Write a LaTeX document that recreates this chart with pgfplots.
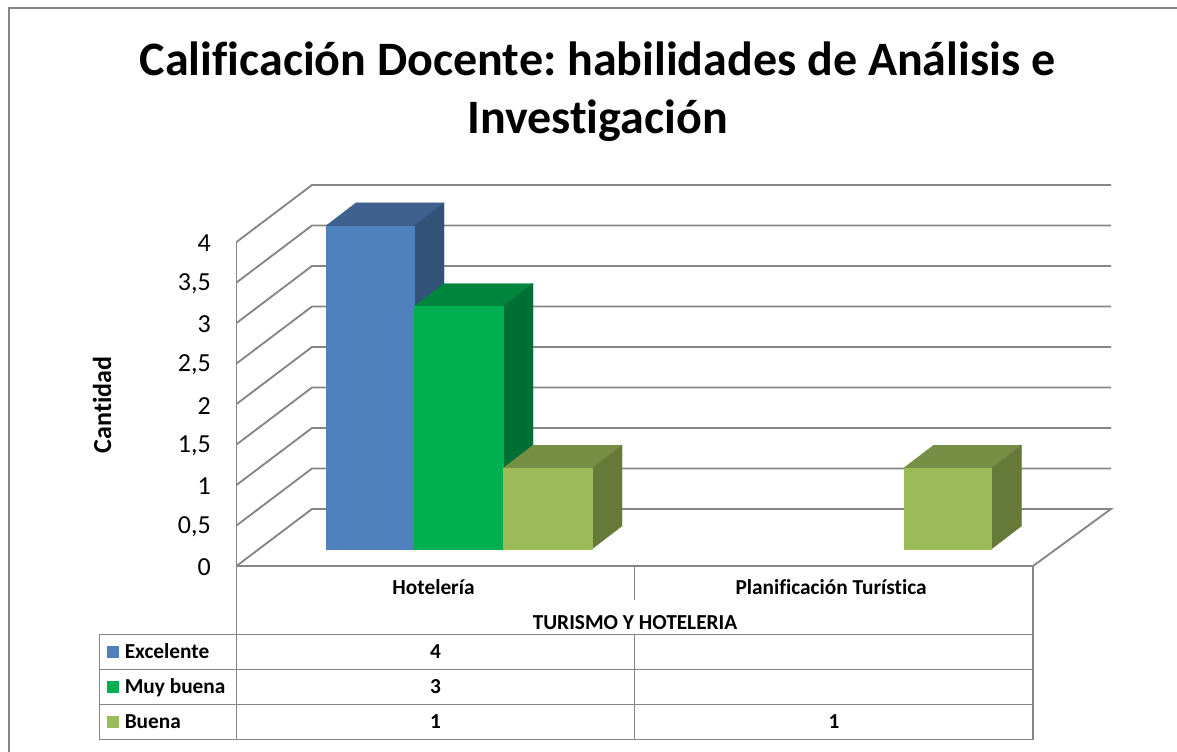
\documentclass[border=0pt]{standalone}
\usepackage{pgfplots}
\pgfplotsset{compat=1.18}
\usepackage{fontspec}
\setmainfont{Carlito}[Ligatures=NoCommon]
\frenchspacing
\definecolor{ln}{HTML}{868686}
\definecolor{bluef}{HTML}{4F81BD}\definecolor{bluet}{HTML}{3F618F}\definecolor{blues}{HTML}{335278}
\definecolor{greenf}{HTML}{00B050}\definecolor{greent}{HTML}{00853D}\definecolor{greens}{HTML}{006F33}
\definecolor{olivef}{HTML}{9BBB59}\definecolor{olivet}{HTML}{778F44}\definecolor{olives}{HTML}{657A39}
\newcommand\fs[1]{\fontsize{#1}{#1}\selectfont}
\tikzset{gl/.style={draw=ln,line width=1.4pt,solid,mark=none}}
\begin{document}
\begin{tikzpicture}[x=0.75pt,y=-0.75pt]
\path[use as bounding box] (0,0) rectangle (1177,752);
\coordinate (wallorigin) at (237,566);
\coordinate (barorigin) at (237,549);
% outer frame
\draw[ln,line width=1.4pt] (9,752) -- (9,8) -- (1177,8);
% title
\node[anchor=base,font=\bfseries\fs{36}] at (597.5,76) {Calificación Docente: habilidades de Análisis e};
\node[anchor=base,font=\bfseries\fs{36}] at (597.5,134) {Investigación};
% axis title
\node[anchor=base,rotate=90,font=\bfseries\fs{19.5}] at (111,405) {Cantidad};
% walls and floor
\begin{axis}[
  at={(wallorigin)},anchor=south west,
  scale only axis,width=597pt,height=243pt,
  xmin=237,xmax=1033,ymin=0,ymax=4,clip=false,
  axis line style={draw=none},major tick length=0pt,
  ytick={0,0.5,1,1.5,2,2.5,3,3.5,4},
  xtick={433.5,831},xticklabels={Hotelería,Planificación Turística},
  /pgf/number format/assume math mode=true,
  /pgf/number format/use comma,
  yticklabel style={font=\fs{19.5},inner sep=0pt,anchor=east,xshift=-19.5pt,yshift=-1.2pt},
  xticklabel style={font=\bfseries\fs{16},inner sep=0pt,anchor=base,yshift=-21pt},
]
\addplot[gl] coordinates {(236.5,0)(312,0.7037)(1111,0.7037)(1033,0)};
\addplot[gl] coordinates {(236.5,0.5)(312,1.2037)(1111,1.2037)};
\addplot[gl] coordinates {(236.5,1)(312,1.7037)(1111,1.7037)};
\addplot[gl] coordinates {(236.5,1.5)(312,2.2037)(1111,2.2037)};
\addplot[gl] coordinates {(236.5,2)(312,2.7037)(1111,2.7037)};
\addplot[gl] coordinates {(236.5,2.5)(312,3.2037)(1111,3.2037)};
\addplot[gl] coordinates {(236.5,3)(312,3.7037)(1111,3.7037)};
\addplot[gl] coordinates {(236.5,3.5)(312,4.2037)(1111,4.2037)};
\addplot[gl] coordinates {(236.5,4)(312,4.7037)(1111,4.7037)};
\addplot[gl] coordinates {(236.5,4)(236.5,0)(1033,0)};
\end{axis}
% bars: y is the value, 0 at the foot of the bars
\begin{axis}[
  at={(barorigin)},anchor=south west,
  scale only axis,width=597pt,height=242.4pt,
  xmin=237,xmax=1033,ymin=0,ymax=4,clip=false,
  hide axis,
  every axis plot/.append style={no markers,mark=none,line width=0.2pt},
]
% Excelente 4, Hotelería
\addplot[fill=bluet,draw=bluet] coordinates {(326,4)(356,4.2847)(444,4.2847)(414,4)};
\addplot[fill=blues,draw=blues] coordinates {(414,0)(444,0.2847)(444,4.2847)(414,4)};
\addplot[fill=bluef,draw=bluef] coordinates {(326,0)(414,0)(414,4)(326,4)};
% Muy buena 3, Hotelería
\addplot[fill=greent,draw=greent] coordinates {(414,3)(444,3.2847)(533,3.2847)(503,3)};
\addplot[fill=greens,draw=greens] coordinates {(503,0)(533,0.2847)(533,3.2847)(503,3)};
\addplot[fill=greenf,draw=greenf] coordinates {(414,0)(503,0)(503,3)(414,3)};
% Buena 1, Hotelería
\addplot[fill=olivet,draw=olivet] coordinates {(503,1)(533,1.2847)(622,1.2847)(592,1)};
\addplot[fill=olives,draw=olives] coordinates {(592,0)(622,0.2847)(622,1.2847)(592,1)};
\addplot[fill=olivef,draw=olivef] coordinates {(503,0)(592,0)(592,1)(503,1)};
% Buena 1, Planificación Turística
\addplot[fill=olivet,draw=olivet] coordinates {(903.5,1)(933.5,1.2847)(1021.5,1.2847)(991.5,1)};
\addplot[fill=olives,draw=olives] coordinates {(991.5,0)(1021.5,0.2847)(1021.5,1.2847)(991.5,1)};
\addplot[fill=olivef,draw=olivef] coordinates {(903.5,0)(991.5,0)(991.5,1)(903.5,1)};
\end{axis}
% data table
\draw[ln,line width=1.4pt] (236.5,566) -- (236.5,739.5);
\draw[ln,line width=1.4pt] (634.5,566) -- (634.5,600);
\draw[ln,line width=1.4pt] (634.5,634.5) -- (634.5,739.5);
\draw[ln,line width=1.4pt] (1033,566) -- (1033,739.5);
\draw[ln,line width=1.4pt] (99.5,739.5) -- (99.5,634.5) -- (1033,634.5);
\draw[ln,line width=1.4pt] (99.5,669.5) -- (1033,669.5);
\draw[ln,line width=1.4pt] (99.5,704.5) -- (1033,704.5);
\draw[ln,line width=1.4pt] (99.5,739.5) -- (1033,739.5);
\node[anchor=base,font=\bfseries\fs{16}] at (635,629) {TURISMO Y HOTELERIA};
\fill[bluef] (107,646) rectangle (118.5,658);
\fill[greenf] (107,681) rectangle (118.5,693);
\fill[olivef] (107,716) rectangle (118.5,728);
\node[anchor=base west,inner sep=0pt,font=\bfseries\fs{16}] at (124.5,658) {Excelente};
\node[anchor=base west,inner sep=0pt,font=\bfseries\fs{16}] at (124.5,693.5) {Muy buena};
\node[anchor=base west,inner sep=0pt,font=\bfseries\fs{16}] at (124.5,728.5) {Buena};
\node[anchor=base,font=\bfseries\fs{16}] at (435.5,658) {4};
\node[anchor=base,font=\bfseries\fs{16}] at (435.5,693.5) {3};
\node[anchor=base,font=\bfseries\fs{16}] at (435.5,728.5) {1};
\node[anchor=base,font=\bfseries\fs{16}] at (834,728.5) {1};
\end{tikzpicture}
\end{document}
